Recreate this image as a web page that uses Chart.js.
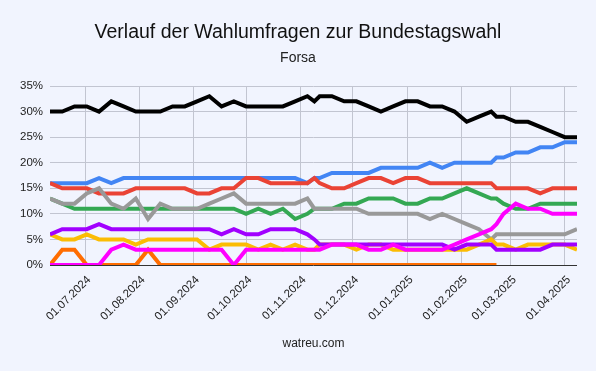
<!DOCTYPE html>
<html>
<head>
<meta charset="utf-8">
<script src="https://cdn.jsdelivr.net/npm/chart.js@4/dist/chart.umd.min.js"></script>
<style>
  html, body { margin: 0; padding: 0; background: #f1f4fe; }
  canvas { display: block; }
</style>
</head>
<body>
<canvas id="chart" width="596" height="371"></canvas>
<script>
// poll dates (Forsa, weekly + two extra polls)
var dates = [
  '2024-06-11', '2024-06-18', '2024-06-25', '2024-07-02', '2024-07-09', '2024-07-16',
  '2024-07-23', '2024-07-30', '2024-08-06', '2024-08-13', '2024-08-20', '2024-08-27',
  '2024-09-03', '2024-09-10', '2024-09-17', '2024-09-24', '2024-10-01', '2024-10-08',
  '2024-10-15', '2024-10-22', '2024-10-29', '2024-11-05', '2024-11-09', '2024-11-12',
  '2024-11-19', '2024-11-26', '2024-12-03', '2024-12-10', '2024-12-17', '2024-12-24',
  '2024-12-31', '2025-01-07', '2025-01-14', '2025-01-21', '2025-01-28', '2025-02-04',
  '2025-02-11', '2025-02-18', '2025-02-21', '2025-02-25', '2025-03-04', '2025-03-11',
  '2025-03-18', '2025-03-25', '2025-04-01', '2025-04-08'
];

var cdu = [30, 30, 31, 31, 30, 32, 31, 30, 30, 30, 31, 31, 32, 33, 31, 32, 31, 31, 31, 31, 32, 33, 32,
  33, 33, 32, 32, 31, 30, 31, 32, 32, 31, 31, 30, 28, 29, 30, 29, 29, 28, 28, 27, 26, 25, 25];
var afd = [16, 16, 16, 16, 17, 16, 17, 17, 17, 17, 17, 17, 17, 17, 17, 17, 17, 17, 17, 17, 17, 16, 17,
  17, 18, 18, 18, 18, 19, 19, 19, 19, 20, 19, 20, 20, 20, 20, 21, 21, 22, 22, 23, 23, 24, 24];
var spd = [16, 15, 15, 15, 14, 14, 14, 15, 15, 15, 15, 15, 14, 14, 15, 15, 17, 17, 16, 16, 16, 16, 17,
  16, 15, 15, 16, 17, 17, 16, 17, 17, 16, 16, 16, 16, 16, 16, 15, 15, 15, 15, 14, 15, 15, 15];
var gruene = [13, 12, 11, 11, 11, 11, 11, 11, 11, 11, 11, 11, 11, 11, 11, 11, 10, 11, 10, 11, 9, 10, 11,
  11, 11, 12, 12, 13, 13, 13, 12, 12, 13, 13, 14, 15, 14, 13, 13, 12, 11, 11, 12, 12, 12, 12];
var sonstige = [13, 12, 12, 14, 15, 12, 11, 13, 9, 12, 11, 11, 11, 12, 13, 14, 12, 12, 12, 12, 12, 13, 11,
  11, 11, 11, 11, 10, 10, 10, 10, 10, 9, 10, 9, 8, 7, 5, 6, 6, 6, 6, 6, 6, 6, 7];
var bsw = [6, 7, 7, 7, 8, 7, 7, 7, 7, 7, 7, 7, 7, 7, 6, 7, 6, 6, 7, 7, 7, 6, 5,
  4, 4, 4, 4, 4, 4, 4, 4, 4, 4, 4, 3, 4, 4, 4, 3, 3, 3, 3, 3, 4, 4, 4];
var fdp = [6, 5, 5, 6, 5, 5, 5, 4, 5, 5, 5, 5, 5, 3, 4, 4, 4, 3, 4, 3, 4, 3, 3,
  4, 4, 4, 3, 4, 4, 3, 3, 3, 3, 3, 3, 3, 4, 5, 4, 4, 3, 4, 4, 4, 4, 3];
var linke = [0, 0, 0, 0, 0, 3, 4, 3, 3, 3, 3, 3, 3, 3, 3, 0, 3, 3, 3, 3, 3, 3, 3,
  3, 4, 4, 4, 3, 3, 4, 3, 3, 3, 3, 4, 5, 6, 7, 8, 10, 12, 11, 11, 10, 10, 10];
var fw = [0, 3, 3, 0, 0, 0, 0, 0, 3, 0, 0, 0, 0, 0, 0, 0, 0, 0, 0, 0, 0, 0, 0,
  0, 0, 0, 0, 0, 0, 0, 0, 0, 0, 0, 0, 0, 0, 0, 0, null, null, null, null, null, null, null];

var monthTicks = ['2024-07-01', '2024-08-01', '2024-09-01', '2024-10-01', '2024-11-01',
  '2024-12-01', '2025-01-01', '2025-02-01', '2025-03-01', '2025-04-01'];
var yTicks = [0, 5, 10, 15, 20, 25, 30, 35];

function ts(s) {
  var p = s.split('-');
  return Date.UTC(+p[0], +p[1] - 1, +p[2]);
}
function pad(n) { return n < 10 ? '0' + n : '' + n; }
function fmt(v) {
  var d = new Date(v);
  return pad(d.getUTCDate()) + '.' + pad(d.getUTCMonth() + 1) + '.' + d.getUTCFullYear();
}
function points(values) {
  return values.map(function (v, i) { return { x: ts(dates[i]), y: v }; });
}
function line(label, values, color) {
  return { label: label, data: points(values), borderColor: color, backgroundColor: color, fill: false };
}

Chart.defaults.font.family = '"Liberation Sans", Arial, sans-serif';

var ctx = document.getElementById('chart').getContext('2d');
var chart = new Chart(ctx, {
  type: 'line',
  data: {
    // first dataset is drawn on top
    datasets: [
      line('Linke', linke, '#ff00ff'),
      line('BSW', bsw, '#a100ff'),
      line('FDP', fdp, '#fbbc04'),
      line('Freie Wähler', fw, '#ff6d01'),
      line('Sonstige', sonstige, '#999999'),
      line('Grüne', gruene, '#34a853'),
      line('SPD', spd, '#ea4335'),
      line('AfD', afd, '#4285f4'),
      line('CDU/CSU', cdu, '#000000')
    ]
  },
  options: {
    responsive: false,
    animation: false,
    layout: { padding: { left: 19, right: 19, top: 0, bottom: 0 } },
    elements: {
      point: { radius: 0 },
      line: { borderWidth: 4, tension: 0 }
    },
    plugins: {
      legend: { display: false },
      tooltip: { enabled: false },
      title: {
        display: true,
        text: 'Verlauf der Wahlumfragen zur Bundestagswahl',
        color: '#111',
        font: { size: 19.5, weight: 'normal' },
        padding: { top: 20.5, bottom: 0 }
      },
      subtitle: {
        display: true,
        text: 'Forsa',
        color: '#222',
        font: { size: 14 },
        padding: { top: 6, bottom: 19.3 }
      }
    },
    scales: {
      x: {
        type: 'linear',
        min: ts(dates[0]),
        max: ts(dates[dates.length - 1]),
        afterBuildTicks: function (axis) {
          axis.ticks = monthTicks.map(function (s) { return { value: ts(s) }; });
        },
        afterFit: function (axis) { axis.height = 106; },
        ticks: {
          autoSkip: false,
          minRotation: 45,
          maxRotation: 45,
          padding: 8,
          labelOffset: 4,
          color: '#222',
          font: { size: 11.5 },
          callback: function (v) { return fmt(v); }
        },
        grid: { color: '#c2c5d1', drawTicks: false },
        border: { display: false },
        title: {
          display: true,
          text: 'watreu.com',
          color: '#222',
          font: { size: 12 },
          padding: { top: 0, bottom: 19.7 }
        }
      },
      y: {
        min: 0,
        max: 35,
        afterBuildTicks: function (axis) {
          axis.ticks = yTicks.map(function (v) { return { value: v }; });
        },
        afterFit: function (axis) { axis.width = 31; },
        ticks: {
          padding: 7,
          color: '#222',
          font: { size: 11.5 },
          callback: function (v) { return v + '%'; }
        },
        grid: {
          drawTicks: false,
          color: function (c) { return c.tick && c.tick.value === 0 ? '#333333' : '#c2c5d1'; }
        },
        border: { display: false }
      }
    }
  }
});
</script>
</body>
</html>
